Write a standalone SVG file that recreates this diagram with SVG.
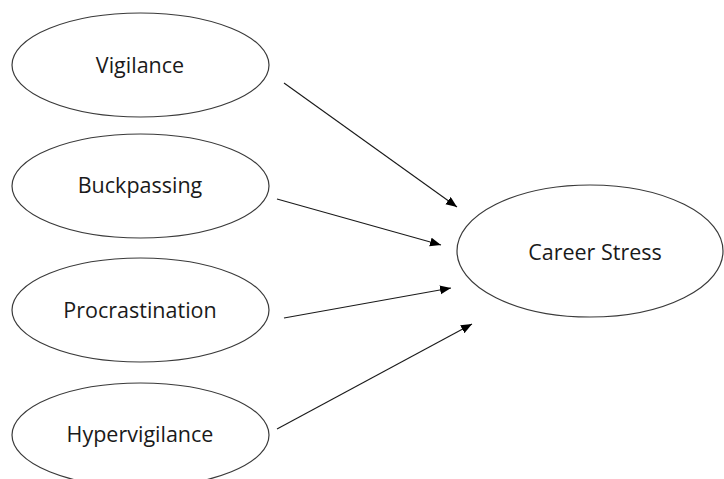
<svg xmlns="http://www.w3.org/2000/svg" width="724" height="479" viewBox="0 0 724 479">
<style>
.node ellipse { fill: #ffffff; stroke: #3a3a3a; stroke-width: 1.2; }
.node text { font-family: "Open Sans", "Liberation Sans", Arial, sans-serif; font-size: 21.5px; fill: #1a1a1a; text-anchor: middle; }
.edge { stroke: #1a1a1a; stroke-width: 1.1; fill: none; marker-end: url(#arrow); }
</style>
<defs>
<marker id="arrow" markerUnits="userSpaceOnUse" markerWidth="12" markerHeight="10" refX="11" refY="4.5" orient="auto">
<path d="M0,0 L11,4.5 L0,9 Z" fill="#000000"/>
</marker>
</defs>
<rect width="724" height="479" fill="#ffffff"/>
<g id="node-vigilance" class="node">
<ellipse cx="140.5" cy="65" rx="128.5" ry="52"/>
<text x="140" y="73">Vigilance</text>
</g>
<g id="node-buckpassing" class="node">
<ellipse cx="140.5" cy="186" rx="128.5" ry="52"/>
<text x="140" y="193">Buckpassing</text>
</g>
<g id="node-procrastination" class="node">
<ellipse cx="140.5" cy="310" rx="128.5" ry="52"/>
<text x="140" y="318">Procrastination</text>
</g>
<g id="node-hypervigilance" class="node">
<ellipse cx="140.5" cy="435" rx="128.5" ry="52"/>
<text x="140" y="442">Hypervigilance</text>
</g>
<g id="node-career-stress" class="node">
<ellipse cx="590" cy="251" rx="133" ry="66"/>
<text x="595" y="260">Career Stress</text>
</g>
<g id="connectors">
<line class="edge" x1="284" y1="83" x2="457" y2="207"/>
<line class="edge" x1="277" y1="199" x2="441" y2="245"/>
<line class="edge" x1="284" y1="318" x2="451" y2="288"/>
<line class="edge" x1="277" y1="429" x2="472" y2="324"/>
</g>
</svg>
